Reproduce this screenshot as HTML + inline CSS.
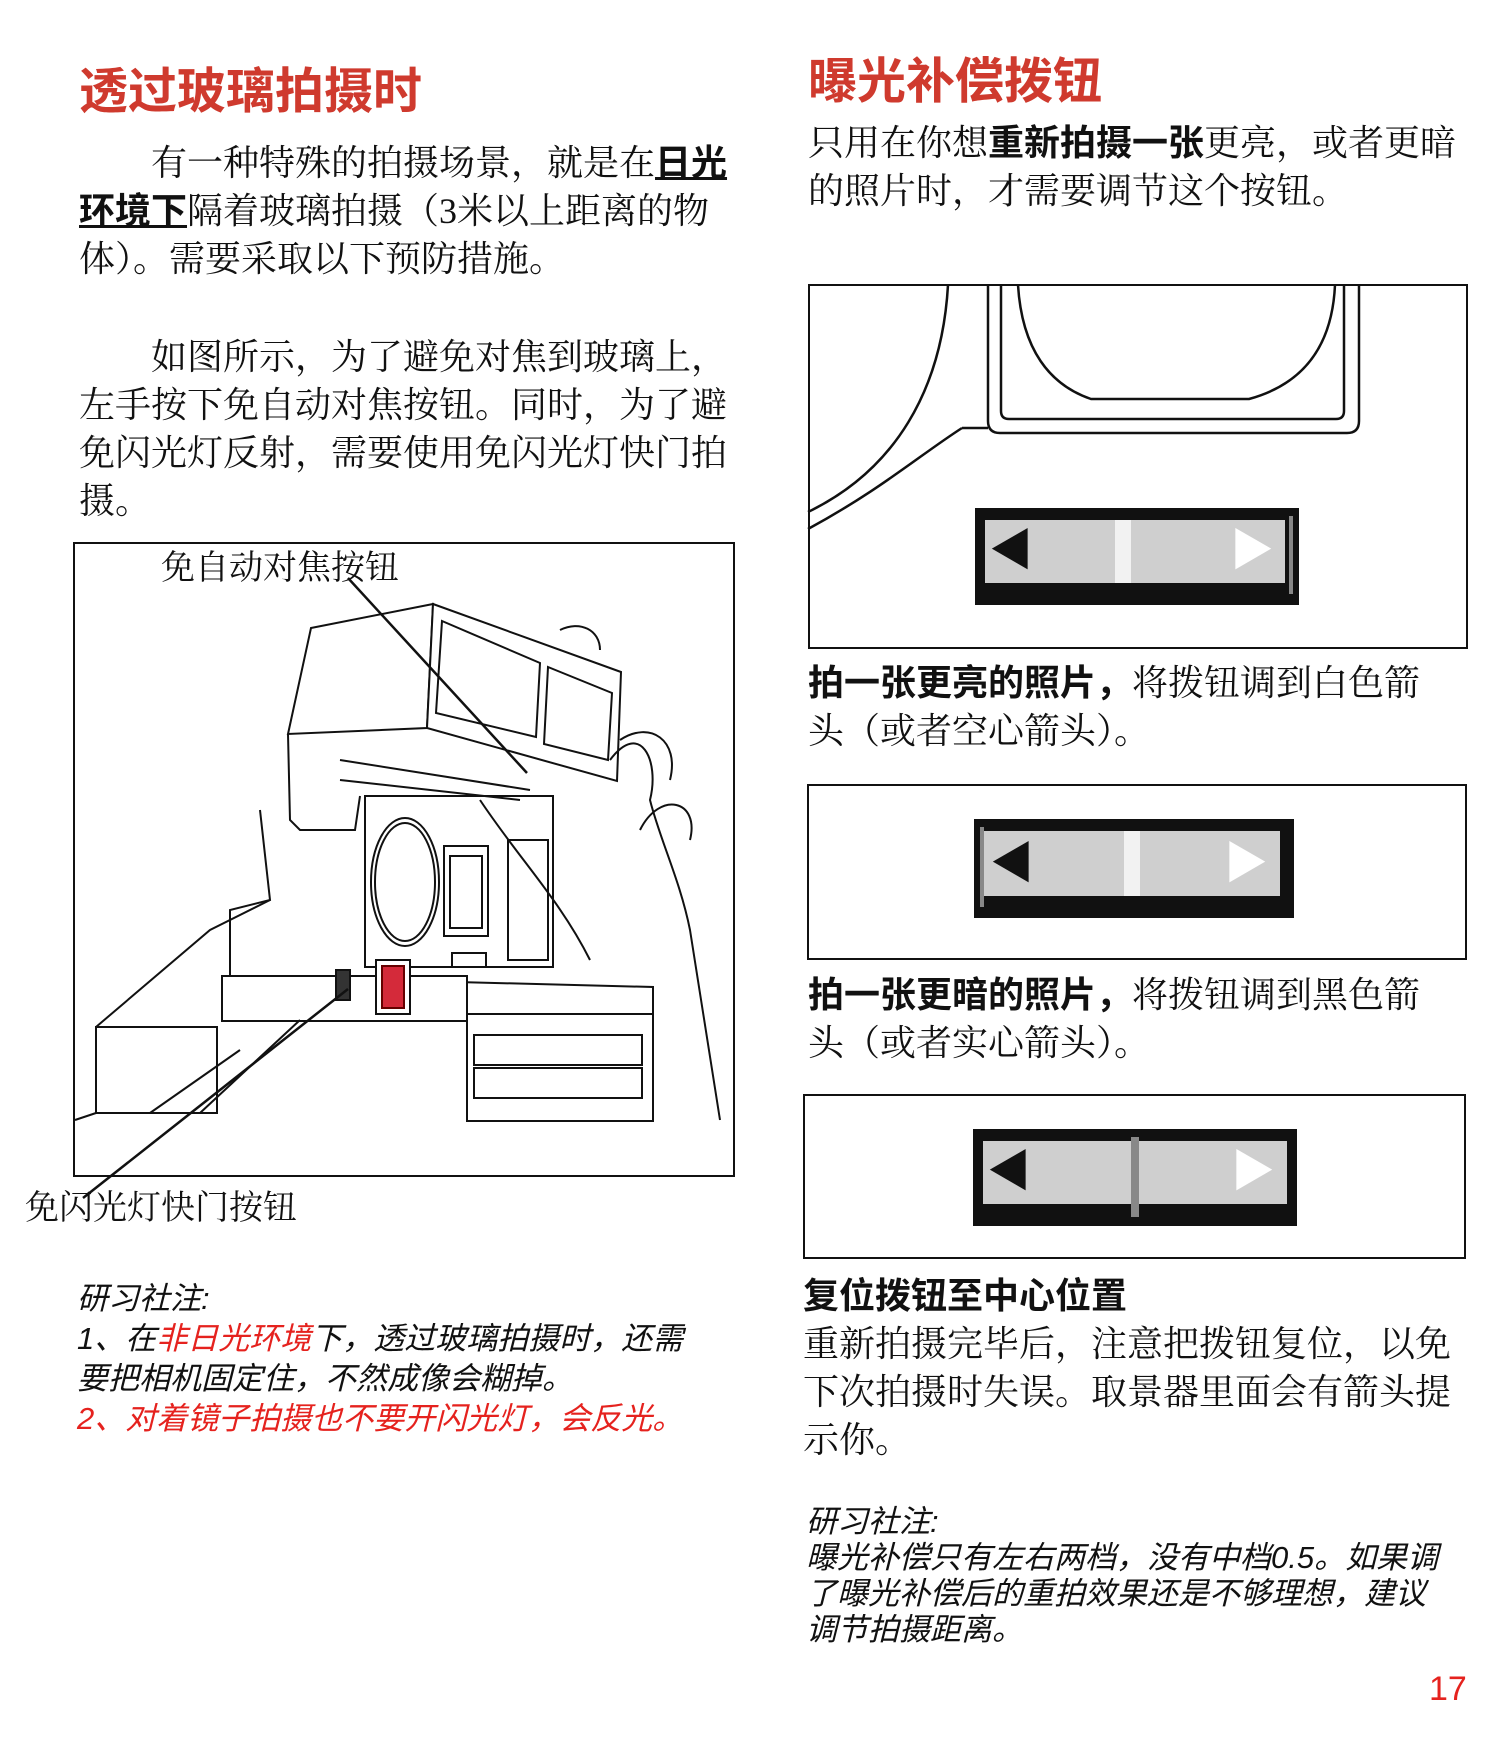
<!DOCTYPE html>
<html><head><meta charset="utf-8"><style>
*{margin:0;padding:0;box-sizing:border-box}
body{width:1500px;height:1760px;background:#fff;position:relative;overflow:hidden;font-family:"Liberation Serif","Noto Serif CJK SC",serif;color:#111}
.t{position:absolute;white-space:nowrap}
.h{font-family:"Liberation Sans","Noto Sans CJK SC",sans-serif;font-weight:bold;color:#cf3a2e;font-size:49px}
.b{font-size:36px;line-height:48px}
.n{font-family:"Liberation Sans","Noto Sans CJK SC",sans-serif;font-style:italic;font-size:31px;line-height:40px}
.r{color:#e5221e}
.box{position:absolute;border:2px solid #111}
.sl{position:absolute;background:#111}
.sl .in{position:absolute;left:10px;right:14px;top:12px;bottom:22px;background:#cfcfcf}
.bb{font-weight:bold;font-family:"Liberation Sans","Noto Sans CJK SC",sans-serif}
</style></head><body>
<div class="t h" style="left:79px;top:52px">透过玻璃拍摄时</div>
<div class="t b" style="left:79px;top:139px">　　有一种特殊的拍摄场景，就是在<u class="bb">日光</u><br><u class="bb">环境下</u>隔着玻璃拍摄（3米以上距离的物<br>体）。需要采取以下预防措施。</div>
<div class="t b" style="left:79px;top:333px">　　如图所示，为了避免对焦到玻璃上，<br>左手按下免自动对焦按钮。同时，为了避<br>免闪光灯反射，需要使用免闪光灯快门拍<br>摄。</div>
<div class="box" style="left:73px;top:542px;width:662px;height:635px"></div>
<svg style="position:absolute;left:0;top:0" width="1500" height="1760" fill="none" stroke="#111" stroke-width="2">
<polygon points="311,628 433,604 427,728 288,734" fill="#fff"/>
<polygon points="433,604 621,672 617,781 427,728" fill="#fff"/>
<polygon points="442,621 540,663 536,737 436,713"/>
<polygon points="548,667 612,693 608,760 544,744"/>
<path d="M288,734 L290,820 L300,830 L355,830 L360,796"/>
<path d="M260,810 L270,900 L230,910 L230,980"/>
<rect x="365" y="796" width="188" height="171" fill="#fff"/>
<ellipse cx="405" cy="882" rx="34" ry="64"/>
<ellipse cx="405" cy="882" rx="30" ry="59"/>
<rect x="444" y="846" width="44" height="90"/><rect x="450" y="856" width="32" height="72"/>
<rect x="508" y="840" width="40" height="120"/>
<rect x="452" y="953" width="34" height="14"/>
<path d="M340,760 L530,790 M340,780 L520,800"/>
<polygon points="222,976 653,987 653,1014 222,1019" fill="#fff"/>
<rect x="222" y="976" width="245" height="45" fill="#fff"/>
<rect x="467" y="1014" width="186" height="107" fill="#fff"/>
<rect x="474" y="1035" width="168" height="30"/><rect x="474" y="1068" width="168" height="30"/>
<rect x="96" y="1027" width="121" height="86" fill="#fff"/>
<path d="M96,1113 L75,1120 M96,1027 L210,930 L270,900 M200,1113 L300,1020 M150,1113 L240,1050"/>
<path d="M610,760 C640,720 660,760 650,800 C660,840 680,880 690,930 L720,1120"/>
<path d="M560,630 C580,620 600,630 600,650 M620,740 C650,720 680,740 670,780 M640,830 C660,790 700,800 690,840"/>
<path d="M480,800 C520,860 560,900 590,960"/>
<rect x="336" y="970" width="14" height="30" fill="#333"/>
<rect x="376" y="960" width="34" height="54" fill="#fff"/>
<rect x="382" y="966" width="22" height="42" fill="#d42a3a" stroke="#600"/>
<line x1="348" y1="578" x2="527" y2="773" stroke-width="2.5"/>
<line x1="348" y1="989" x2="83" y2="1198" stroke-width="2.5"/>
<!-- box1 drawing -->
<path d="M948,285 C942,390 895,470 808,512" stroke-width="2.5"/>
<path d="M962,428 C920,455 880,490 808,529" stroke-width="2.5"/>
<path d="M962,428 L988,428" stroke-width="2.5"/>
<path d="M988,285 L988,421 Q988,433 1000,433 L1347,433 Q1359,433 1359,421 L1359,285" stroke-width="2.5"/>
<path d="M1001,285 L1001,411 Q1001,419 1009,419 L1336,419 Q1344,419 1344,411 L1344,285" stroke-width="2.5"/>
<path d="M1018,285 C1022,350 1050,385 1091,399 L1249,399 C1300,385 1332,350 1335,285" stroke-width="2.5"/>
</svg>
<div class="t" style="left:161px;top:540px;font-size:34px">免自动对焦按钮</div>
<div class="t" style="left:25px;top:1180px;font-size:34px">免闪光灯快门按钮</div>
<div class="t n" style="left:77px;top:1279px">研习社注:<br>1、在<span class="r">非日光环境</span>下，透过玻璃拍摄时，还需<br>要把相机固定住，不然成像会糊掉。<br><span class="r">2、对着镜子拍摄也不要开闪光灯，会反光。</span></div>

<div class="t h" style="left:808px;top:42px">曝光补偿拨钮</div>
<div class="t b" style="left:808px;top:119px">只用在你想<b class="bb">重新拍摄一张</b>更亮，或者更暗<br>的照片时，才需要调节这个按钮。</div>
<div class="box" style="left:808px;top:284px;width:660px;height:365px"></div>
<div class="sl" style="left:975px;top:508px;width:324px;height:97px"><div class="in"></div><div style="position:absolute;left:140px;top:12px;width:16px;height:63px;background:#f2f2f2"></div><div style="position:absolute;right:6px;top:8px;width:4px;height:78px;background:#888"></div><div style="position:absolute;left:14px;top:18px;font-size:44px;color:#111;line-height:50px">◀</div><div style="position:absolute;left:255px;top:18px;font-size:44px;color:#fff;line-height:50px">▶</div></div>
<div class="t b" style="left:808px;top:659px"><b class="bb">拍一张更亮的照片，</b>将拨钮调到白色箭<br>头（或者空心箭头）。</div>
<div class="box" style="left:807px;top:784px;width:660px;height:176px"></div>
<div class="sl" style="left:974px;top:819px;width:320px;height:99px"><div class="in"></div><div style="position:absolute;left:150px;top:12px;width:16px;height:65px;background:#f2f2f2"></div><div style="position:absolute;left:6px;top:8px;width:4px;height:80px;background:#888"></div><div style="position:absolute;left:16px;top:20px;font-size:44px;color:#111;line-height:50px">◀</div><div style="position:absolute;left:250px;top:20px;font-size:44px;color:#fff;line-height:50px">▶</div></div>
<div class="t b" style="left:808px;top:971px"><b class="bb">拍一张更暗的照片，</b>将拨钮调到黑色箭<br>头（或者实心箭头）。</div>
<div class="box" style="left:803px;top:1094px;width:663px;height:165px"></div>
<div class="sl" style="left:973px;top:1129px;width:324px;height:97px"><div class="in" style="right:10px"></div><div style="position:absolute;left:158px;top:8px;width:8px;height:80px;background:#888"></div><div style="position:absolute;left:14px;top:18px;font-size:44px;color:#111;line-height:50px">◀</div><div style="position:absolute;left:258px;top:18px;font-size:44px;color:#fff;line-height:50px">▶</div></div>
<div class="t b" style="left:803px;top:1272px"><b class="bb">复位拨钮至中心位置</b><br>重新拍摄完毕后，注意把拨钮复位，以免<br>下次拍摄时失误。取景器里面会有箭头提<br>示你。</div>
<div class="t n" style="left:806px;top:1504px;line-height:36px">研习社注:<br>曝光补偿只有左右两档，没有中档0.5。如果调<br>了曝光补偿后的重拍效果还是不够理想，建议<br>调节拍摄距离。</div>
<div class="t" style="left:1429px;top:1670px;font-size:34px;color:#e5221e;font-family:'Liberation Sans',sans-serif">17</div>
</body></html>
